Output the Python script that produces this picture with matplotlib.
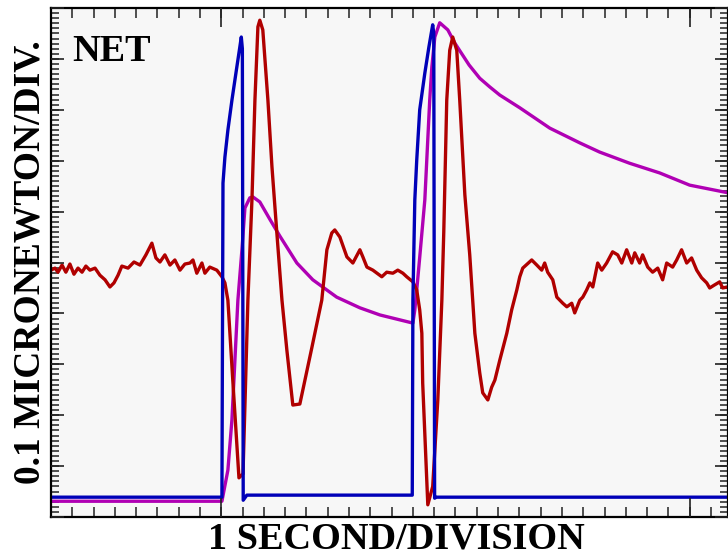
import numpy as np
import matplotlib
matplotlib.use('Agg')
import matplotlib.pyplot as plt

# datos (x en divisiones de 1 segundo, y en 0.1 micronewton)
azul_x = [0.00, 8.03, 8.08, 8.17, 8.31, 8.50, 8.73, 8.87, 8.94, 8.99, 9.03, 9.20,
          16.97, 17.00, 17.09, 17.18, 17.32, 17.56, 17.75, 17.93, 17.98, 18.02,
          18.10, 31.80]
azul_y = [0.39, 0.39, 6.56, 7.07, 7.60, 8.19, 8.84, 9.23, 9.43, 9.20, 0.33, 0.43,
          0.43, 4.26, 6.23, 7.01, 8.00, 8.72, 9.23, 9.67, 9.50, 0.37,
          0.39, 0.39]

magenta_x = [0.00, 8.03, 8.31, 8.50, 8.64, 8.78, 8.97, 9.11, 9.34, 9.48, 9.81,
             10.28, 10.75, 11.55, 12.30, 13.42, 14.51, 15.45, 17.00, 17.09,
             17.18, 17.32, 17.56, 17.79, 17.89, 18.03, 18.26, 18.64, 18.97,
             19.64, 20.14, 20.61, 21.08, 22.02, 23.43, 24.84, 25.77, 27.18,
             28.59, 30.00, 31.80]
magenta_y = [0.31, 0.31, 0.92, 1.91, 3.08, 4.26, 5.25, 6.07, 6.27, 6.29, 6.19,
             5.85, 5.52, 4.99, 4.66, 4.32, 4.11, 3.97, 3.81, 4.07,
             4.46, 5.10, 6.23, 8.19, 8.84, 9.43, 9.71, 9.57, 9.31,
             8.88, 8.62, 8.45, 8.29, 8.04, 7.64, 7.35, 7.17, 6.95,
             6.76, 6.52, 6.37]

rojo_x = [0.00, 0.19, 0.33, 0.52, 0.70, 0.89, 1.08, 1.27, 1.46, 1.64, 1.83, 2.07,
          2.30, 2.54, 2.77, 2.96, 3.15, 3.33, 3.62, 3.90, 4.18, 4.46, 4.74,
          4.93, 5.12, 5.35, 5.59, 5.82, 6.06, 6.29, 6.53, 6.67, 6.85, 7.09,
          7.23, 7.46, 7.79, 8.03, 8.17, 8.31, 8.54, 8.83, 9.02, 9.25, 9.44,
          9.58, 9.72, 9.81, 9.95, 10.19, 10.38, 10.61, 10.85, 11.08, 11.36,
          11.69, 11.97, 12.25, 12.72, 12.96, 13.19, 13.33, 13.57, 13.90,
          14.18, 14.51, 14.65, 14.84, 15.12, 15.54, 15.77, 16.06, 16.29,
          16.53, 16.71, 17.00, 17.18, 17.32, 17.42, 17.46, 17.70, 17.93,
          18.17, 18.36, 18.45, 18.59, 18.73, 18.87, 19.06, 19.20, 19.44,
          19.67, 19.91, 20.14, 20.28, 20.52, 20.70, 20.85, 21.08, 21.41,
          21.64, 21.88, 22.02, 22.16, 22.58, 22.82, 23.05, 23.19, 23.33,
          23.57, 23.76, 24.04, 24.23, 24.46, 24.60, 24.84, 24.98, 25.16,
          25.31, 25.45, 25.68, 25.87, 26.10, 26.38, 26.62, 26.81, 27.04,
          27.28, 27.42, 27.65, 27.79, 28.03, 28.26, 28.50, 28.73, 28.92,
          29.20, 29.39, 29.62, 29.86, 30.09, 30.33, 30.56, 30.80, 30.94,
          31.17, 31.41, 31.55, 31.78]
rojo_y = [4.85, 4.89, 4.81, 4.95, 4.81, 4.97, 4.77, 4.89, 4.81, 4.93, 4.85, 4.89,
          4.75, 4.66, 4.52, 4.60, 4.75, 4.93, 4.89, 5.01, 4.95, 5.15, 5.38,
          5.09, 5.01, 5.15, 4.95, 5.05, 4.85, 4.97, 4.99, 5.05, 4.79, 4.99,
          4.79, 4.91, 4.85, 4.72, 4.60, 4.26, 2.69, 0.77, 0.85, 4.26, 6.23,
          8.19, 9.63, 9.76, 9.57, 8.19, 6.88, 5.58, 4.26, 3.28, 2.20,
          2.22, 2.77, 3.32, 4.26, 5.25, 5.58, 5.64, 5.50, 5.11,
          4.99, 5.25, 5.11, 4.91, 4.85, 4.72, 4.81, 4.79, 4.85,
          4.79, 4.72, 4.62, 4.46, 4.07, 3.61, 2.63, 0.24, 0.60,
          2.30, 4.26, 5.60, 8.19, 9.17, 9.43, 9.17, 8.19, 6.33,
          5.15, 3.61, 2.83, 2.44, 2.30, 2.55, 2.69, 3.08, 3.61,
          4.07, 4.46, 4.72, 4.89, 5.05, 4.95, 4.85, 4.99, 4.81,
          4.66, 4.32, 4.20, 4.13, 4.20, 4.01, 4.26, 4.32, 4.46,
          4.60, 4.52, 4.99, 4.85, 4.99, 5.21, 5.15, 4.99, 5.25,
          4.99, 5.19, 4.99, 5.15, 4.91, 4.81, 4.89, 4.66, 4.99,
          4.91, 5.05, 5.25, 4.99, 5.09, 4.85, 4.70, 4.60, 4.50,
          4.56, 4.62, 4.50, 4.52]

ticks_largos_x = [8, 30]
ticks_cortos_x = np.arange(0, 32, 1)
ticks_largos_y = np.arange(0, 11, 1)
ticks_cortos_y = np.arange(0, 10.05, 0.1)

posicion = [0.070, 0.0701, 0.930, 0.9155]
fig = plt.figure(figsize=(7.28, 5.56), dpi=100)
ax = fig.add_axes(posicion)
ax.set_facecolor('#f7f7f7')

ax.plot(magenta_x, magenta_y, color='#b000b4', linewidth=2.4)
ax.plot(rojo_x, rojo_y, color='#b00000', linewidth=2.4)
ax.plot(azul_x, azul_y, color='#0000b8', linewidth=2.4)

ax.set_xlim(0, 31.8)
ax.set_ylim(0, 10)

# ticks cortos como mayores del eje principal
ax.set_xticks(ticks_cortos_x)
ax.set_yticks(ticks_cortos_y)
ax.tick_params(direction='in', top=True, right=True,
               labelbottom=False, labelleft=False, width=1.2, color='#333333')
ax.xaxis.set_tick_params(length=7.5)
ax.yaxis.set_tick_params(length=5.5)

for lado in ['left', 'top', 'bottom', 'right']:
    ax.spines[lado].set_linewidth(1.6)

# ticks largos en un segundo eje transparente encima
ax_largos = fig.add_axes(posicion, frameon=False)
ax_largos.set_xlim(0, 31.8)
ax_largos.set_ylim(0, 10)
ax_largos.set_xticks(ticks_largos_x)
ax_largos.set_yticks(ticks_largos_y)
ax_largos.tick_params(direction='in', top=True, right=True,
                      labelbottom=False, labelleft=False, width=1.2, color='#222222')
ax_largos.xaxis.set_tick_params(length=14)
ax_largos.yaxis.set_tick_params(length=9.5)

ax.text(0.032, 0.948, 'NET', transform=ax.transAxes, ha='left', va='top',
        fontsize=27.5, fontweight='bold', family='Liberation Serif')

fig.text(0.544, 0.031, '1 SECOND/DIVISION', ha='center', va='center',
         fontsize=27.5, fontweight='bold', family='Liberation Serif')
fig.text(0.041, 0.528, '0.1 MICRONEWTON/DIV.', ha='center', va='center',
         rotation=90, fontsize=27, fontweight='bold', family='Liberation Serif')

plt.savefig('out.png', dpi=100)
